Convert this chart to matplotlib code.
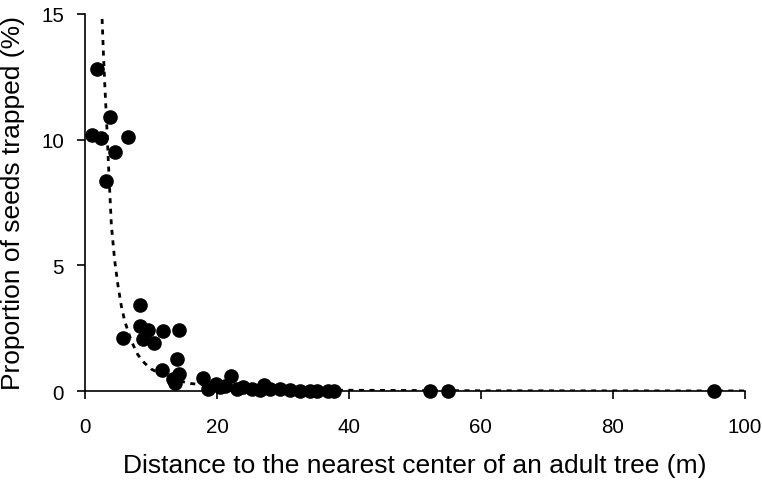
import matplotlib
matplotlib.use("Agg")
import matplotlib.pyplot as plt

plt.rcParams['font.family'] = ['Liberation Sans', 'DejaVu Sans']

# observed trap data: distance (m) and proportion of seeds trapped (%)
dist = [1.0, 1.8, 2.5, 3.2, 3.8, 4.5, 6.5,
        5.7, 8.35, 8.35, 8.85, 9.6, 10.5, 11.8, 14.2, 14.0, 11.6, 14.3, 13.7, 13.4,
        17.9, 18.7, 19.9, 20.5, 21.2, 22.1, 23.0, 24.0, 25.3, 26.6, 27.1, 28.1,
        29.6, 31.1, 32.6, 34.1, 35.2, 36.9, 37.7, 52.3, 55.0, 95.4]
prop = [10.2, 12.8, 10.07, 8.37, 10.9, 9.5, 10.1,
        2.1, 3.43, 2.58, 2.07, 2.44, 1.91, 2.38, 2.44, 1.27, 0.84, 0.68, 0.31, 0.48,
        0.5, 0.08, 0.28, 0.16, 0.21, 0.61, 0.08, 0.15, 0.1, 0.05, 0.24, 0.08,
        0.1, 0.05, 0.01, 0.01, 0.01, 0.01, 0.01, 0.0, 0.0, 0.0]

# fitted curve
fit_x = [2.6, 2.8, 3.0, 3.3, 3.6, 4.0, 4.5, 5.0, 5.5, 6.0, 7.0, 8.0, 9.0, 10,
         12, 14, 16, 20, 25, 30, 40, 60, 80, 100]
fit_y = [14.8, 13.4, 12.2, 10.6, 8.8, 6.6, 5.2, 4.2, 3.4, 2.8, 2.0, 1.45, 1.12, 0.88,
         0.6, 0.42, 0.3, 0.18, 0.1, 0.06, 0.03, 0.01, 0.006, 0.004]

fig = plt.figure(figsize=(7.62, 4.81), dpi=100)
ax = fig.add_axes([0.1115, 0.185, 0.866, 0.784])

ax.plot(fit_x, fit_y, color='black', linestyle=(0, (1.8, 2.0)), linewidth=2.0, zorder=2)
ax.plot(dist, prop, 'o', color='black', markersize=9.5, zorder=3, clip_on=False)

ax.set_xlim(0, 100)
ax.set_ylim(0, 15)
ax.set_xticks([0, 20, 40, 60, 80, 100])
ax.set_yticks([0, 5, 10, 15])
ax.spines['top'].set_visible(False)
ax.spines['right'].set_visible(False)
ax.spines['left'].set_linewidth(1.2)
ax.spines['bottom'].set_linewidth(1.2)
ax.tick_params(direction='out', length=6, width=1.2, labelsize=14.8)
ax.tick_params(axis='x', pad=13)
ax.tick_params(axis='y', pad=9)

ax.set_xlabel('Distance to the nearest center of an adult tree (m)', fontsize=19, labelpad=12)
ax.set_ylabel('Proportion of seeds trapped (%)', fontsize=19, labelpad=12)

fig.savefig('out.png', dpi=100)
